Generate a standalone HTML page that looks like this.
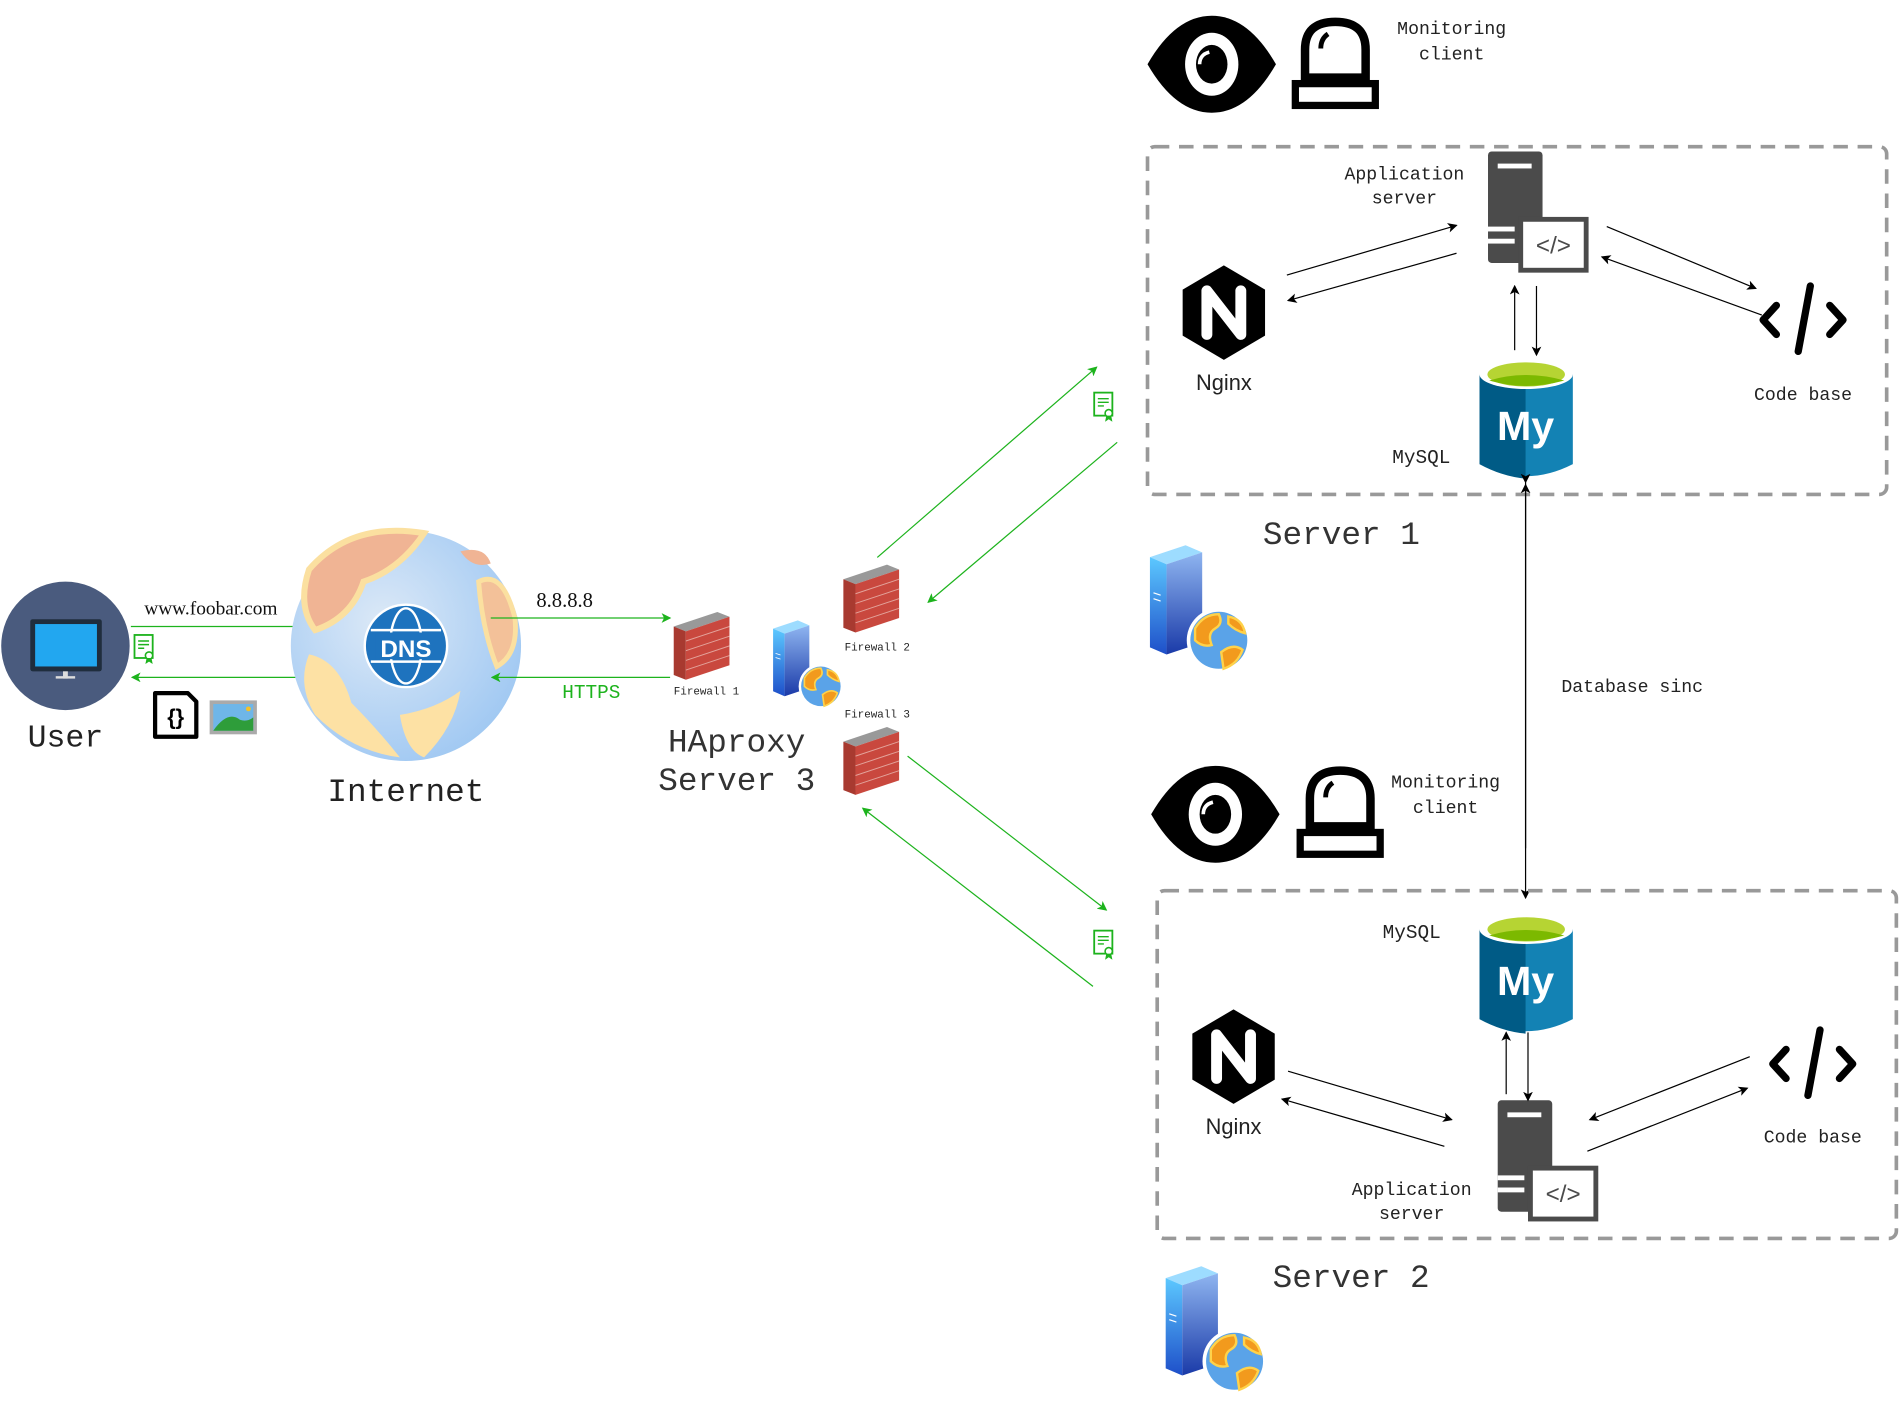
<!DOCTYPE html>
<html><head><meta charset="utf-8"><style>
html,body{margin:0;padding:0;background:#fff}
svg{display:block}
.m{font-family:"Liberation Mono",monospace;fill:#222}
.s{font-family:"Liberation Sans",sans-serif;fill:#222}
.r{font-family:"Liberation Serif",serif;fill:#111}
</style></head><body>
<svg width="1900" height="1402" viewBox="0 0 1568 1157" xmlns="http://www.w3.org/2000/svg">
<defs>
<marker id="ab" markerWidth="8" markerHeight="8" refX="7" refY="4" orient="auto" markerUnits="userSpaceOnUse"><path d="M0,0 L8,4 L0,8 L2,4z" fill="#000"/></marker>
<marker id="ag" markerWidth="8" markerHeight="8" refX="7" refY="4" orient="auto" markerUnits="userSpaceOnUse"><path d="M0,0 L8,4 L0,8 L2,4z" fill="#1db31d"/></marker>
<linearGradient id="srv" x1="0" y1="0" x2="0" y2="1"><stop offset="0" stop-color="#5cc8ff"/><stop offset="1" stop-color="#1e4fc9"/></linearGradient>
<linearGradient id="srvs" x1="0" y1="0" x2="0" y2="1"><stop offset="0" stop-color="#8fb5f0"/><stop offset="1" stop-color="#1a3aa8"/></linearGradient>
<radialGradient id="glb" cx="0.4" cy="0.4" r="0.7"><stop offset="0" stop-color="#dce9f7"/><stop offset="1" stop-color="#9cc6f2"/></radialGradient>
<g id="server">
 <path d="M0,10 L30,0 L44,6 L14,16z" fill="#9ddcff"/>
 <path d="M0,10 L14,16 L14,92 L0,86z" fill="url(#srv)"/>
 <path d="M14,16 L44,6 L44,82 L14,92z" fill="url(#srvs)"/>
 <line x1="3" y1="40" x2="9" y2="42" stroke="#fff"/><line x1="3" y1="45" x2="9" y2="47" stroke="#fff"/>
 <circle cx="58" cy="80" r="27" fill="#fff"/>
 <circle cx="58" cy="80" r="24" fill="#5aa3e8"/>
 <path d="M38,70 Q45,58 58,58 Q62,66 55,70 Q48,74 52,84 Q44,86 38,80z M60,90 Q70,82 78,88 Q74,100 62,104z M66,60 Q78,62 80,74 Q72,72 66,66z" fill="#f29a1d" stroke="#ffd24a" stroke-width="2"/>
</g>
<g id="fw">
 <path d="M0,12 L36,0 L46,4 L10,16z" fill="#999"/>
 <path d="M0,12 L10,16 L10,56 L0,52z" fill="#a83a30"/>
 <path d="M10,16 L46,4 L46,44 L10,56z" fill="#c9483e"/>
 <g stroke="#e3a39b" stroke-width="0.8" fill="none">
  <path d="M10,24 L46,12 M10,32 L46,20 M10,40 L46,28 M10,48 L46,36"/>
 </g>
</g>
<g id="cert">
 <rect x="0" y="0" width="15" height="19" fill="#fff" stroke="#1db31d" stroke-width="1.5"/>
 <path d="M3,5h9M3,8h9M3,11h5" stroke="#1db31d" stroke-width="1.2"/>
 <circle cx="12" cy="17" r="3" fill="#fff" stroke="#1db31d" stroke-width="1.3"/>
 <path d="M10,19 l-1,5 3,-2 3,2 -1,-5" fill="#1db31d"/>
</g>
<g id="eye">
 <path d="M-53,0 Q-30,-40 0,-40 Q30,-40 53,0 Q30,40 0,40 Q-30,40 -53,0z" fill="#000"/>
 <ellipse cx="0" cy="0" rx="22" ry="26" fill="#fff"/>
 <ellipse cx="0" cy="0" rx="13" ry="16" fill="#000"/>
 <path d="M-2,-10 Q-10,-8 -10,0" stroke="#fff" stroke-width="3" fill="none"/>
</g>
<g id="bell">
 <path d="M-25,8 L-25,-15 Q-25,-38 0,-38 Q25,-38 25,-15 L25,8z" fill="#fff" stroke="#000" stroke-width="7"/>
 <rect x="-33" y="13" width="66" height="18" fill="#fff" stroke="#000" stroke-width="6"/>
 <path d="M-6,-28 Q-12,-24 -12,-16" stroke="#000" stroke-width="4" fill="none"/>
</g>
<g id="ngx">
 <path d="M0,-39 L34,-19 L34,19 L0,39 L-34,19 L-34,-19z" fill="#000"/>
 <path d="M-14,18 L-14,-18 L14,18 L14,-18" stroke="#fff" stroke-width="9" fill="none" stroke-linejoin="round" stroke-linecap="round"/>
</g>
<g id="app">
 <rect x="0" y="0" width="45" height="92" rx="3" fill="#4b4b4b"/>
 <rect x="8" y="10" width="28" height="4" fill="#fff"/>
 <rect x="0" y="62" width="22" height="4" fill="#fff"/><rect x="0" y="72" width="22" height="4" fill="#fff"/>
 <rect x="27" y="56" width="54" height="42" fill="#fff" stroke="#4b4b4b" stroke-width="4"/>
 <text x="54" y="84" text-anchor="middle" font-family="Liberation Sans,sans-serif" font-size="20" fill="#4b4b4b">&lt;/&gt;</text>
</g>
<g id="code">
 <path d="M-22,-12 L-33,0 L-22,12 M22,-12 L33,0 L22,12 M6,-28 L-4,26" stroke="#000" stroke-width="6" fill="none" stroke-linecap="round" stroke-linejoin="round"/>
</g>
<g id="my">
 <path d="M0,12 L0,86 Q38,106 77,86 L77,12z" fill="#1382b4"/>
 <path d="M0,12 L0,86 Q18,96 38,98 L38,14z" fill="#005b86"/>
 <ellipse cx="38.5" cy="12" rx="38.5" ry="12" fill="#fff"/>
 <ellipse cx="38.5" cy="12" rx="32" ry="10" fill="#b6d433"/>
 <path d="M8,17 Q38,8 70,17 Q38,26 8,17z" fill="#7cb900"/>
 <text x="38" y="66" text-anchor="middle" font-family="Liberation Sans,sans-serif" font-weight="bold" font-size="34" fill="#fff">My</text>
</g>
</defs>

<!-- User -->
<circle cx="54" cy="533" r="53" fill="#4a5b7e"/>
<rect x="25" y="511" width="59" height="43" rx="2" fill="#1f2d3d"/>
<rect x="29" y="515" width="51" height="35" fill="#22a7f0"/>
<rect x="52" y="554" width="4" height="6" fill="#ddd"/><rect x="46" y="558" width="16" height="2" fill="#ddd"/>
<text x="54" y="616" class="m" font-size="26" text-anchor="middle">User</text>
<text x="174" y="507" class="r" font-size="16" text-anchor="middle">www.foobar.com</text>
<line x1="108" y1="517" x2="256" y2="517" stroke="#1db31d" marker-end="url(#ag)"/>
<line x1="256" y1="559" x2="109" y2="559" stroke="#1db31d" marker-end="url(#ag)"/>
<use href="#cert" x="111" y="524"/>
<path d="M128,572 L155,572 L162,579 L162,608 L128,608z" fill="#fff" stroke="#000" stroke-width="3.5" stroke-linejoin="round"/>
<text x="145" y="598" font-family="Liberation Sans,sans-serif" font-weight="bold" font-size="18" text-anchor="middle">{}</text>
<rect x="173" y="578" width="39" height="28" fill="#aaa"/><rect x="176" y="581" width="33" height="22" fill="#6fb6e8"/>
<path d="M176,603 Q188,586 198,594 Q204,596 209,592 L209,603z" fill="#2e9d3a"/><circle cx="205" cy="585" r="2" fill="#f3c12a"/>

<!-- Internet -->
<circle cx="335" cy="533" r="95" fill="url(#glb)"/>
<path d="M255,470 Q290,430 350,440 Q330,470 300,480 Q290,510 260,520 Q245,500 255,470z" fill="#f0b494" stroke="#fbe0a0" stroke-width="5"/>
<path d="M255,540 Q280,545 290,580 Q310,600 330,625 Q290,620 260,590 Q245,565 255,540z" fill="#fde1a4"/>
<path d="M330,590 Q360,585 380,570 Q375,600 350,625 Q335,620 330,590z" fill="#fde1a4"/>
<path d="M395,480 Q415,470 425,510 Q428,540 410,550 Q398,520 395,480z" fill="#f3c199" stroke="#fbe0a0" stroke-width="4"/>
<path d="M380,455 Q400,450 405,465 Q390,470 380,455z" fill="#f0b494"/>
<circle cx="335" cy="533" r="35" fill="#fff"/>
<circle cx="335" cy="533" r="33" fill="#1e73be"/>
<ellipse cx="335" cy="533" rx="13" ry="31" fill="none" stroke="#fff" stroke-width="2"/>
<path d="M306,520 L364,520 M306,546 L364,546" stroke="#fff" stroke-width="2"/>
<rect x="310" y="522" width="50" height="22" fill="#1e73be"/>
<text x="335" y="542" text-anchor="middle" font-family="Liberation Sans,sans-serif" font-size="20" fill="#fff" font-weight="bold">DNS</text>
<text x="335" y="661" class="m" font-size="27" text-anchor="middle">Internet</text>
<text x="466" y="501" class="r" font-size="17" text-anchor="middle">8.8.8.8</text>
<line x1="405" y1="510" x2="553" y2="510" stroke="#1db31d" marker-end="url(#ag)"/>
<line x1="553" y1="559" x2="406" y2="559" stroke="#1db31d" marker-end="url(#ag)"/>
<text x="488" y="576" class="m" font-size="16" text-anchor="middle" style="fill:#1db31d">HTTPS</text>

<!-- HAproxy -->
<use href="#fw" x="556" y="505"/>
<text x="583" y="573" class="m" font-size="9" text-anchor="middle">Firewall 1</text>
<use href="#server" x="638" y="512" transform="translate(638,512) scale(0.68) translate(-638,-512)"/>
<use href="#fw" x="696" y="466"/>
<text x="724" y="537" class="m" font-size="9" text-anchor="middle">Firewall 2</text>
<use href="#fw" x="696" y="600"/>
<text x="724" y="592" class="m" font-size="9" text-anchor="middle">Firewall 3</text>
<text x="608" y="620" class="m" font-size="27" text-anchor="middle" style="fill:#333">HAproxy</text>
<text x="608" y="652" class="m" font-size="27" text-anchor="middle" style="fill:#333">Server 3</text>
<line x1="724" y1="460" x2="905" y2="303" stroke="#1db31d" marker-end="url(#ag)"/>
<line x1="922" y1="365" x2="766" y2="497" stroke="#1db31d" marker-end="url(#ag)"/>
<line x1="749" y1="624" x2="913" y2="751" stroke="#1db31d" marker-end="url(#ag)"/>
<line x1="902" y1="814" x2="712" y2="667" stroke="#1db31d" marker-end="url(#ag)"/>
<use href="#cert" x="903" y="324"/>
<use href="#cert" x="903" y="768"/>

<!-- Server 1 -->
<use href="#eye" x="1000" y="53"/>
<use href="#bell" x="1102" y="56"/>
<text x="1198" y="28" class="m" font-size="15" text-anchor="middle">Monitoring</text>
<text x="1198" y="49" class="m" font-size="15" text-anchor="middle">client</text>
<rect x="947" y="121" width="610" height="287" rx="6" fill="none" stroke="#999" stroke-width="3" stroke-dasharray="12 8"/>
<use href="#ngx" x="1010" y="258"/>
<text x="1010" y="322" class="s" font-size="18" text-anchor="middle">Nginx</text>
<use href="#app" x="1228" y="125"/>
<text x="1159" y="148" class="m" font-size="15" text-anchor="middle">Application</text>
<text x="1159" y="168" class="m" font-size="15" text-anchor="middle">server</text>
<line x1="1062" y1="227" x2="1202" y2="186" stroke="#000" marker-end="url(#ab)"/>
<line x1="1202" y1="209" x2="1063" y2="248" stroke="#000" marker-end="url(#ab)"/>
<line x1="1326" y1="187" x2="1449" y2="238" stroke="#000" marker-end="url(#ab)"/>
<line x1="1454" y1="260" x2="1322" y2="212" stroke="#000" marker-end="url(#ab)"/>
<line x1="1250" y1="289" x2="1250" y2="236" stroke="#000" marker-end="url(#ab)"/>
<line x1="1268" y1="236" x2="1268" y2="293" stroke="#000" marker-end="url(#ab)"/>
<use href="#code" x="1488" y="264"/>
<text x="1488" y="330" class="m" font-size="15" text-anchor="middle">Code base</text>
<use href="#my" x="1221" y="297"/>
<text x="1173" y="382" class="m" font-size="16" text-anchor="middle">MySQL</text>
<text x="1107" y="449" class="m" font-size="27" text-anchor="middle" style="fill:#333">Server 1</text>
<use href="#server" x="949" y="450" transform="translate(949,450) scale(0.98) translate(-949,-450)"/>

<line x1="1259" y1="398" x2="1259" y2="741" stroke="#000" marker-end="url(#ab)" marker-start="url(#ab)"/>
<line x1="1259" y1="700" x2="1259" y2="400" stroke="#000" marker-end="url(#ab)"/>
<text x="1347" y="571" class="m" font-size="15" text-anchor="middle">Database sinc</text>

<!-- Server 2 -->
<use href="#eye" x="1003" y="672"/>
<use href="#bell" x="1106" y="674"/>
<text x="1193" y="650" class="m" font-size="15" text-anchor="middle">Monitoring</text>
<text x="1193" y="671" class="m" font-size="15" text-anchor="middle">client</text>
<rect x="955" y="735" width="610" height="287" rx="6" fill="none" stroke="#999" stroke-width="3" stroke-dasharray="12 8"/>
<use href="#my" x="1221" y="755"/>
<text x="1165" y="774" class="m" font-size="16" text-anchor="middle">MySQL</text>
<use href="#ngx" x="1018" y="872"/>
<text x="1018" y="936" class="s" font-size="18" text-anchor="middle">Nginx</text>
<use href="#app" x="1236" y="908"/>
<text x="1165" y="986" class="m" font-size="15" text-anchor="middle">Application</text>
<text x="1165" y="1006" class="m" font-size="15" text-anchor="middle">server</text>
<line x1="1063" y1="884" x2="1198" y2="924" stroke="#000" marker-end="url(#ab)"/>
<line x1="1192" y1="946" x2="1058" y2="907" stroke="#000" marker-end="url(#ab)"/>
<line x1="1444" y1="872" x2="1312" y2="924" stroke="#000" marker-end="url(#ab)"/>
<line x1="1310" y1="950" x2="1442" y2="898" stroke="#000" marker-end="url(#ab)"/>
<line x1="1243" y1="903" x2="1243" y2="852" stroke="#000" marker-end="url(#ab)"/>
<line x1="1261" y1="852" x2="1261" y2="908" stroke="#000" marker-end="url(#ab)"/>
<use href="#code" x="1496" y="878"/>
<text x="1496" y="943" class="m" font-size="15" text-anchor="middle">Code base</text>
<text x="1115" y="1062" class="m" font-size="27" text-anchor="middle" style="fill:#333">Server 2</text>
<use href="#server" x="962" y="1045" transform="translate(962,1045) scale(0.98) translate(-962,-1045)"/>
</svg>
</body></html>
